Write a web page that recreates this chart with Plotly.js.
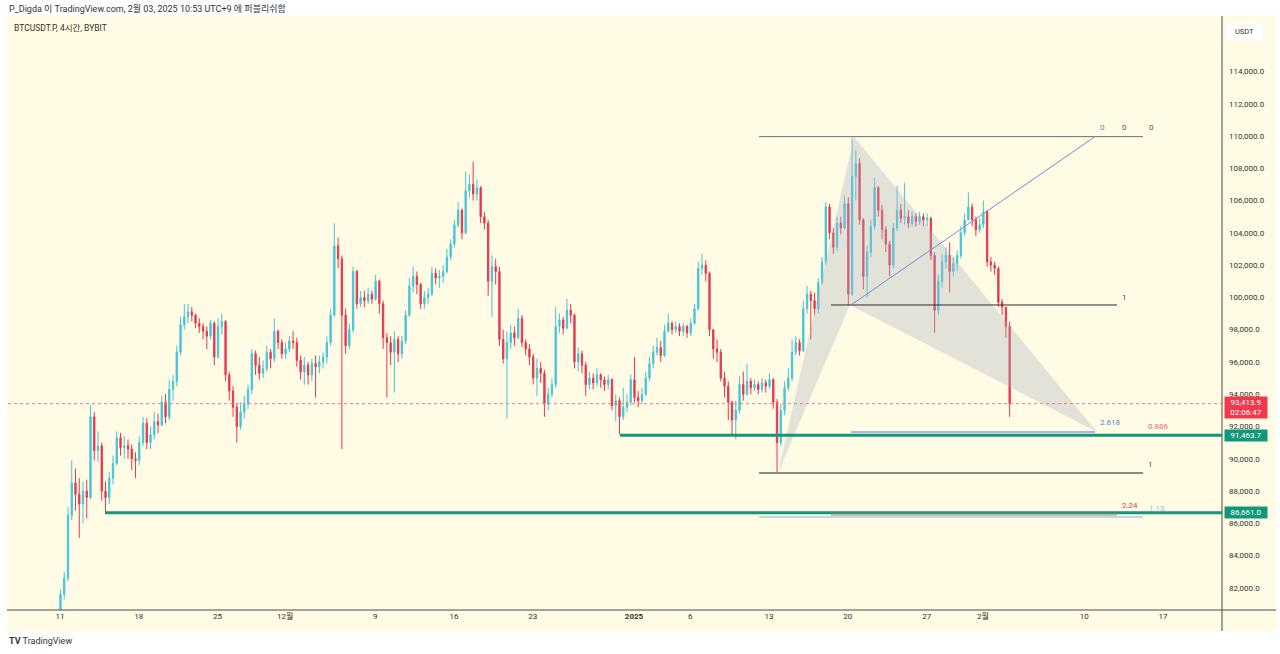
<!DOCTYPE html>
<html>
<head>
<meta charset="utf-8">
<script src="https://cdn.plot.ly/plotly-3.0.1.min.js"></script>
<style>
html,body{margin:0;padding:0;background:#ffffff;}
#chart{width:1280px;height:654px;}
</style>
</head>
<body>
<div id="chart"></div>
<script>
// ---- Candle data (8h candles, values in thousands USDT) ----
const firstOpen = 80.4;
const closeK = [
81.6,82.6,86.5,88.5,87.8,87.2,88.0,87.6,92.6,90.5,90.8,88.0,87.6,88.8,89.7,91.3,90.7,90.8,90.6,90.0,
89.9,91.0,92.2,91.0,91.5,92.3,92.1,93.5,92.6,94.3,94.8,96.6,98.3,98.8,99.1,98.9,98.4,98.2,97.9,97.6,
98.4,96.3,98.2,98.5,95.2,94.2,93.2,92.0,92.9,93.4,94.3,96.5,95.8,95.3,95.6,96.6,96.2,97.9,97.2,96.5,
96.8,97.3,97.2,96.1,95.4,95.8,95.2,95.9,95.7,96.0,96.3,97.2,98.9,103.2,102.4,98.9,97.0,98.0,101.6,99.6,
100.0,99.8,100.2,99.9,101.0,99.6,97.5,97.2,96.6,97.4,96.5,97.3,98.9,100.7,101.3,100.8,99.6,100.0,100.2,101.5,
101.2,101.3,101.6,102.5,103.3,104.5,105.4,104.0,106.6,107.0,106.4,106.8,105.0,104.6,101.0,101.9,101.6,97.4,96.2,97.2,
97.8,97.5,98.7,97.2,96.8,96.3,95.0,95.6,95.3,93.4,94.0,94.6,98.2,98.6,98.1,99.2,98.9,96.0,96.5,95.8,
94.6,95.0,94.7,95.2,94.9,94.6,94.9,93.3,93.6,92.6,93.2,93.5,94.9,93.8,93.6,94.0,95.0,95.9,96.6,96.9,
96.4,97.9,98.4,98.0,98.2,97.9,98.2,97.8,98.4,99.3,101.8,102.0,101.5,98.0,96.8,96.6,95.0,94.5,93.5,92.4,
93.0,94.6,94.0,94.8,94.4,94.6,94.3,94.7,94.5,94.9,93.5,91.0,93.0,94.4,95.0,96.6,97.2,96.7,99.3,100.2,
99.8,99.3,100.9,102.2,105.6,104.0,103.1,104.6,104.3,105.8,100.2,107.5,108.3,104.8,101.3,102.8,104.4,106.8,105.4,104.2,
103.3,102.0,104.3,105.4,104.9,105.0,104.6,105.0,104.7,105.0,104.8,104.9,102.6,99.2,101.0,102.2,102.6,101.6,102.1,102.6,
104.0,104.8,105.6,104.8,104.2,104.5,105.3,102.2,102.0,101.8,99.7,99.4,98.2,93.4139
];
const highK = [
81.9,83.0,87.0,89.9,89.4,88.8,88.6,88.7,93.3,92.9,91.7,91.0,88.6,89.2,90.2,91.7,91.6,91.4,91.2,90.9,
90.4,91.4,92.6,92.5,92.0,92.9,92.8,93.9,94.0,94.9,95.2,97.0,98.8,99.6,99.6,99.4,99.0,98.7,98.4,98.2,
98.6,98.5,98.7,99.0,98.6,95.4,94.5,93.4,93.5,93.9,94.6,96.8,96.7,96.3,96.1,97.0,96.8,98.7,98.0,97.4,
97.2,97.6,97.9,97.5,96.4,96.3,96.0,96.2,96.4,96.4,96.6,97.6,99.3,104.6,103.7,102.6,99.3,98.4,101.9,101.7,
100.4,100.4,100.6,100.4,101.4,101.1,99.8,97.8,97.6,97.9,97.6,97.6,99.2,101.2,101.9,101.6,100.9,100.4,100.6,101.9,
101.8,101.7,102.0,103.0,103.6,104.8,105.9,105.5,107.8,107.6,108.4,107.3,106.9,105.3,104.8,102.6,102.4,101.9,98.0,97.9,
98.3,98.2,99.3,98.9,97.4,97.1,96.5,96.2,96.0,95.5,94.4,95.0,99.4,99.0,98.8,99.9,99.6,99.0,96.9,96.7,
96.0,95.4,95.3,95.6,95.3,95.1,95.2,95.0,94.0,93.8,94.4,94.0,95.2,96.3,94.2,94.4,95.4,96.3,97.0,97.5,
97.3,98.3,99.0,98.5,98.5,98.4,98.4,98.3,98.7,99.6,102.2,102.7,102.3,101.6,97.8,97.4,96.8,95.4,94.8,93.6,
93.6,95.1,95.4,95.9,95.0,94.9,94.8,95.0,94.9,95.3,95.0,93.7,93.4,94.8,95.6,97.4,97.6,97.4,99.8,100.7,
100.4,100.3,101.2,102.5,105.9,105.8,104.3,105.0,105.0,106.3,106.2,109.9,109.1,108.6,104.9,103.2,104.8,107.4,106.9,105.7,
104.4,103.5,104.6,106.9,105.8,107.1,105.4,105.3,105.2,105.3,105.2,105.2,105.0,102.8,101.4,102.7,103.1,103.4,102.5,102.9,
104.4,105.2,106.5,105.8,105.0,104.9,106.0,105.4,102.5,102.2,101.9,99.9,99.3,98.5
];
const lowK = [
80.2,81.3,82.4,86.2,86.8,85.1,86.0,86.3,87.5,89.9,89.8,87.4,86.66,87.2,88.4,89.6,90.2,90.0,90.0,89.3,
88.8,89.6,90.8,90.6,90.6,91.2,91.6,92.0,92.2,92.4,93.6,94.5,96.4,98.0,98.4,98.5,98.1,97.8,97.4,96.8,
97.4,95.8,96.2,97.7,94.8,93.6,92.6,91.0,91.8,92.5,93.1,94.0,95.2,94.9,95.0,95.4,95.6,96.0,96.8,96.2,
96.2,96.6,96.8,95.7,94.9,94.6,94.6,94.8,93.8,95.3,95.6,95.9,97.0,98.8,101.8,90.6,96.5,96.8,97.8,99.3,
99.4,99.4,99.6,99.6,99.8,99.0,96.8,93.8,95.8,94.1,96.0,96.2,97.1,98.8,100.3,100.2,99.3,99.3,99.6,100.1,
100.8,100.6,100.9,101.5,102.3,103.1,104.3,103.6,103.9,106.2,106.0,106.0,104.6,104.2,100.1,98.8,100.8,97.0,95.9,92.5,
96.8,97.0,97.4,96.9,96.4,95.8,94.6,93.9,94.7,92.6,93.0,93.8,94.4,97.8,97.7,98.0,98.4,95.6,95.4,95.3,
93.9,94.3,94.3,94.5,94.4,94.2,94.3,93.0,92.3,91.5,92.4,92.9,93.3,93.5,93.2,93.4,93.9,94.8,95.6,96.4,
96.0,96.3,97.8,97.7,97.8,97.6,97.6,97.5,97.6,98.3,99.2,101.4,101.0,97.6,96.2,96.0,94.8,93.8,92.4,91.5,
91.2,92.8,93.6,93.9,94.0,94.2,94.0,94.1,94.1,94.3,93.1,89.15,90.8,92.7,94.2,94.8,96.4,96.4,96.6,99.0,
97.4,98.9,99.0,100.8,102.0,103.6,102.7,102.9,103.9,104.2,99.5,100.1,106.0,104.5,100.5,100.0,102.5,104.2,105.0,103.6,
102.8,101.3,101.8,104.1,104.6,104.5,104.3,104.4,104.4,104.5,104.4,104.4,102.3,97.8,98.9,100.6,101.8,100.3,101.3,101.6,
102.4,103.8,104.8,104.4,103.8,104.0,104.3,101.9,101.6,101.4,99.4,98.9,97.5,92.6
];

// ---- Axis ticks ----
const xTickDates = ['2024-11-11','2024-11-18','2024-11-25','2024-12-01','2024-12-09','2024-12-16','2024-12-23',
  '2025-01-01','2025-01-06','2025-01-13','2025-01-20','2025-01-27','2025-02-01','2025-02-10','2025-02-17'];
const xTickText = ['11','18','25','12월','9','16','23','<b>2025</b>','6','13','20','27','2월','10','17'];
const yTickVals = [82000,84000,86000,88000,90000,92000,94000,96000,98000,100000,102000,104000,106000,108000,110000,112000,114000];

// ---- Drawing anchors (date, price) ----
const patternLeftX = ['2025-01-13 19:00','2025-01-20 13:00','2025-01-20 04:30'];
const patternLeftY = [89120, 109960, 99530];
const patternRightX = ['2025-01-20 13:00','2025-02-11 03:20','2025-01-20 04:30'];
const patternRightY = [109960, 91660, 99530];
const lastPrice = 93413.9;
const supportHigh = 91463.7;
const supportLow = 86661.0;

// ---- Build series ----
const t0 = Date.UTC(2024, 10, 11, 1, 0);
const times = closeK.map((_, i) => new Date(t0 + i * 8 * 3600 * 1000).toISOString().slice(0, 16).replace('T', ' '));
const close = closeK.map(v => v * 1000);
const open = closeK.map((v, i) => (i === 0 ? firstOpen : closeK[i - 1]) * 1000);
const high = highK.map((v, i) => Math.max(v * 1000, open[i], close[i]));
const low = lowK.map((v, i) => Math.min(v * 1000, open[i], close[i]));

const UP = '#45c5d9', DN = '#e5394f';
const data = [
  {
    type: 'candlestick', x: times, open: open, high: high, low: low, close: close,
    increasing: {line: {color: UP, width: 1}, fillcolor: UP},
    decreasing: {line: {color: DN, width: 1}, fillcolor: DN},
    whiskerwidth: 0, hoverinfo: 'skip', showlegend: false
  },
  {
    type: 'scatter', mode: 'lines', x: patternLeftX, y: patternLeftY, fill: 'toself',
    fillcolor: 'rgba(170,178,196,0.34)', line: {width: 0}, hoverinfo: 'skip', showlegend: false
  },
  {
    type: 'scatter', mode: 'lines', x: patternRightX, y: patternRightY, fill: 'toself',
    fillcolor: 'rgba(170,178,196,0.34)', line: {width: 0}, hoverinfo: 'skip', showlegend: false
  }
];

const FONT = 'Roboto, "Noto Sans CJK KR", sans-serif';
const shapes = [
  {type:'rect', xref:'paper', yref:'paper', x0:-0.0008, x1:1.0445, y0:-0.0354, y1:1, fillcolor:'#fffbe4', line:{width:0}, layer:'below'},
  {type:'line', xref:'paper', yref:'paper', x0:-0.0008, x1:1.0445, y0:0, y1:0, line:{color:'#4a4a4a', width:1}},
  {type:'line', xref:'paper', yref:'paper', x0:1, x1:1, y0:-0.0354, y1:1, line:{color:'#4a4a4a', width:1}},
  {type:'line', xref:'paper', yref:'y', x0:0, x1:1, y0:lastPrice, y1:lastPrice, line:{color:'#f27785', width:1, dash:'dot'}},
  {type:'line', xref:'x', yref:'y', x0:'2024-12-30 18:10', x1:'2025-03-15', y0:supportHigh, y1:supportHigh, line:{color:'#13977c', width:3}},
  {type:'line', xref:'x', yref:'y', x0:'2024-11-15 00:00', x1:'2025-03-15', y0:supportLow, y1:supportLow, line:{color:'#13977c', width:3}},
  {type:'line', xref:'x', yref:'y', x0:'2025-01-12 02:40', x1:'2025-02-15 05:20', y0:109960, y1:109960, line:{color:'#6e6e6e', width:1}},
  {type:'line', xref:'x', yref:'y', x0:'2025-01-12 02:40', x1:'2025-02-15 05:20', y0:89120, y1:89120, line:{color:'#8c8b80', width:2}},
  {type:'line', xref:'x', yref:'y', x0:'2025-01-12 02:40', x1:'2025-02-15 05:20', y0:86390, y1:86390, line:{color:'#b9dbe8', width:2}},
  {type:'line', xref:'x', yref:'y', x0:'2025-01-18 12:00', x1:'2025-02-12 22:00', y0:99530, y1:99530, line:{color:'#2e2e2e', width:1}},
  {type:'line', xref:'x', yref:'y', x0:'2025-01-18 12:00', x1:'2025-02-12 22:00', y0:86530, y1:86530, line:{color:'#c9aaa2', width:2}},
  {type:'line', xref:'x', yref:'y', x0:'2025-01-20 06:40', x1:'2025-02-10 23:00', y0:99530, y1:109960, line:{color:'#6f8fdc', width:1}},
  {type:'line', xref:'x', yref:'y', x0:'2025-01-20 06:40', x1:'2025-02-10 23:00', y0:91660, y1:91660, line:{color:'#a9b9dc', width:2}}
];

function lab(text, x, y, color) {
  return {text: text, x: x, y: y, xref: 'x', yref: 'y', showarrow: false, font: {family: FONT, size: 8, color: color}, xanchor: 'center', yanchor: 'middle'};
}
const annotations = [
  {text:'P_Digda 이 TradingView.com, 2월 03, 2025 10:53 UTC+9 에 퍼블리쉬함', xref:'paper', yref:'paper', x:-0.0008, y:1.0118, xanchor:'left', yanchor:'middle', showarrow:false, font:{family:FONT, size:9, color:'#333333'}},
  {text:'BTCUSDT.P, 4시간, BYBIT', xref:'paper', yref:'paper', x:0.0033, y:0.9798, xanchor:'left', yanchor:'middle', showarrow:false, font:{family:FONT, size:8.5, color:'#333333'}},
  {text:'<b>TV</b> TradingView', xref:'paper', yref:'paper', x:-0.0008, y:-0.0522, xanchor:'left', yanchor:'middle', showarrow:false, font:{family:FONT, size:9, color:'#333333'}},
  {text:'USDT', xref:'paper', yref:'paper', x:1.0033, y:0.9747, xanchor:'left', yanchor:'middle', showarrow:false, font:{family:FONT, size:7.5, color:'#333333'}, bgcolor:'#ffffff', borderpad:4, width:27},
  {text:'93,413.9<br>02:06:47', xref:'paper', yref:'y', x:1.0016, y:93190, xanchor:'left', yanchor:'middle', showarrow:false, font:{family:FONT, size:8, color:'#ffffff'}, bgcolor:'#ef3a4d', width:40, borderpad:1},
  {text:'91,463.7', xref:'paper', yref:'y', x:1.0016, y:supportHigh, xanchor:'left', yanchor:'middle', showarrow:false, font:{family:FONT, size:8, color:'#ffffff'}, bgcolor:'#13977c', width:40, borderpad:1},
  {text:'86,661.0', xref:'paper', yref:'y', x:1.0016, y:supportLow, xanchor:'left', yanchor:'middle', showarrow:false, font:{family:FONT, size:8, color:'#ffffff'}, bgcolor:'#13977c', width:40, borderpad:1},
  lab('0', '2025-02-11 16:00', 110500, '#5b7fd6'),
  lab('0', '2025-02-13 13:00', 110500, '#555555'),
  lab('0', '2025-02-15 22:30', 110500, '#555555'),
  lab('1', '2025-02-13 13:00', 100000, '#444444'),
  lab('2.618', '2025-02-12 09:00', 92220, '#5b7fd6'),
  lab('0.886', '2025-02-16 15:20', 92030, '#e8697a'),
  lab('1', '2025-02-15 20:20', 89620, '#555555'),
  lab('2.24', '2025-02-14 01:40', 87080, '#e0404f'),
  lab('1.13', '2025-02-16 11:20', 86890, '#8cc5dc')
];

const layout = {
  width: 1280, height: 654,
  margin: {l: 8, r: 58, t: 16, b: 44},
  paper_bgcolor: '#ffffff', plot_bgcolor: '#fffbe4',
  showlegend: false,
  boxgap: 0.5,
  font: {family: FONT, size: 8, color: '#333333'},
  xaxis: {
    type: 'date', range: ['2024-11-06 09:05', '2025-02-22 05:50'],
    tickvals: xTickDates, ticktext: xTickText, tickmode: 'array',
    showgrid: false, zeroline: false, ticks: '', showline: false,
    tickfont: {family: FONT, size: 8, color: '#333333'},
    rangeslider: {visible: false}, fixedrange: true
  },
  yaxis: {
    side: 'right', range: [80630, 117435], tickmode: 'array', tickvals: yTickVals,
    tickformat: ',.1f', showgrid: false, zeroline: false, ticks: '', showline: false,
    ticklabelstandoff: 6,
    tickfont: {family: FONT, size: 8, color: '#333333'}, fixedrange: true
  },
  shapes: shapes,
  annotations: annotations
};

Plotly.newPlot('chart', data, layout, {staticPlot: true, displayModeBar: false});
</script>
</body>
</html>
